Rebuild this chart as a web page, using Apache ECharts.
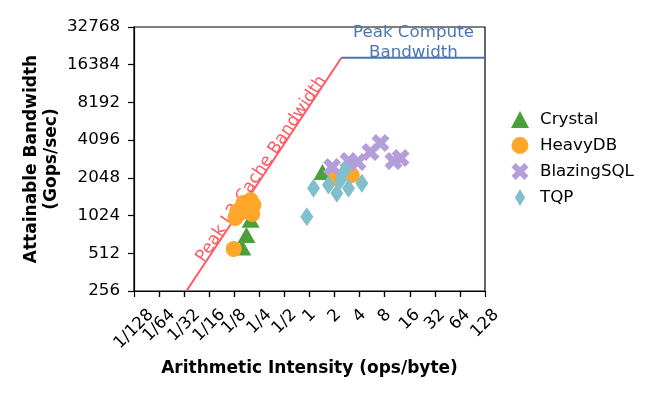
<!DOCTYPE html>
<html>
<head>
<meta charset="utf-8">
<script src="https://cdn.jsdelivr.net/npm/echarts@6/dist/echarts.min.js"></script>
<style>
html,body{margin:0;padding:0;background:#fff;}
#chart{width:665px;height:397px;}
</style>
</head>
<body>
<div id="chart"></div>
<script>
// ---- data ----
const xTickLabels = ['1/128','1/64','1/32','1/16','1/8','1/4','1/2','1','2','4','8','16','32','64','128'];
const yTickLabels = ['256','512','1024','2048','4096','8192','16384','32768'];

const seriesNames = ['Crystal', 'HeavyDB', 'BlazingSQL', 'TQP'];

const crystalX = [0.196, 0.175, 0.156, 1.43, 1.94];
const crystalY = [950, 716, 570, 2280, 2080];

const heavyX = [0.123, 0.129, 0.1355, 0.161, 0.196, 0.212, 0.205, 0.148, 2.04, 3.22];
const heavyY = [554, 979, 1113, 1290, 1362, 1243, 1054, 1073, 2031, 2157];

const blazingX = [1.87, 2.94, 3.77, 5.40, 7.12, 10.2, 12.4];
const blazingY = [2499, 2792, 2740, 3293, 3886, 2792, 2949];

const tqpX = [0.928, 1.117, 1.69, 2.13, 2.68, 2.94, 4.25, 2.36];
const tqpY = [1003, 1690, 1795, 1541, 2365, 1690, 1852, 1969];

const cacheBandwidth = 7700;   // Gops/sec per ops/byte (slope of roof)
const peakCompute = 18600;     // Gops/sec
const roofLabels = ['Peak L2 Cache Bandwidth', 'Peak Compute\nBandwidth'];
const cacheLabelAtX = 0.336;
const computeLabelAtX = 17.7;

// ---- helpers ----
const pair = (xs, ys) => xs.map((x, i) => [x, ys[i]]);
const FONT = '"DejaVu Sans", sans-serif';
const TICK_FS = 16.7;

const cv = document.createElement('canvas').getContext('2d');
cv.font = TICK_FS + 'px DejaVu Sans';
const widths = xTickLabels.map(t => cv.measureText(t).width);
const w0 = Math.min(...widths);
const rich = {};
xTickLabels.forEach((t, i) => {
  const p = (widths[i] - w0) / 2;
  rich['p' + i] = { padding: [p, p, 0, 0], fontSize: TICK_FS, fontFamily: FONT, color: '#000' };
});
const tickIndex = v => Math.round(Math.log2(v)) + 7;

const xPath = 'path://M0,3 L3,0 L6,3 L9,0 L12,3 L9,6 L12,9 L9,12 L6,9 L3,12 L0,9 L3,6 Z';
const dPath = 'path://M6,0 L12,10 L6,20 L0,10 Z';

const colors = { red: '#ff5a62', blue: '#4a76b5', green: '#4ca03c', orange: '#ffa62b', purple: '#b39ddb', teal: '#80bfcb' };

const chart = echarts.init(document.getElementById('chart'), null, { renderer: 'canvas' });

const plainLabel = { textBorderWidth: 0, textShadowBlur: 0, opacity: 1 };

const xBase = {
  type: 'log', logBase: 2, min: 1 / 128, max: 128, interval: 1, splitNumber: 14,
  position: 'bottom', gridIndex: 0,
  splitLine: { show: false },
  minorTick: { show: false }
};
const xLabelBase = {
  rotate: 45, align: 'center', verticalAlign: 'middle', margin: 25,
  hideOverlap: false, fontFamily: FONT, fontSize: TICK_FS, color: '#000', rich: rich
};

const option = {
  animation: false,
  backgroundColor: '#fff',
  grid: { left: 134, right: 180, top: 27, bottom: 106, show: true, borderColor: '#000', borderWidth: 1.2,
          backgroundColor: 'transparent', outerBoundsMode: 'none', containLabel: false },
  legend: {
    orient: 'vertical', left: 506, top: 106,
    itemWidth: 18, itemHeight: 17, itemGap: 9,
    data: seriesNames,
    textStyle: { fontFamily: FONT, fontSize: TICK_FS, color: '#000', padding: [0, 0, 0, 6] }
  },
  xAxis: [
    Object.assign({}, xBase, {
      name: 'Arithmetic Intensity (ops/byte)', nameLocation: 'middle', nameGap: 69, nameMoveOverlap: false,
      nameTextStyle: { fontFamily: FONT, fontSize: 17, fontWeight: 'bold', color: '#000' },
      axisLine: { show: true, lineStyle: { color: '#000', width: 1.2 } },
      axisTick: { show: true, length: 6, lineStyle: { color: '#000', width: 1.2 } },
      axisLabel: Object.assign({}, xLabelBase, {
        showMinLabel: false, showMaxLabel: true,
        formatter: function (v) {
          const i = tickIndex(v);
          return i === 0 ? '' : '{p' + i + '|' + xTickLabels[i] + '}';
        }
      })
    }),
    Object.assign({}, xBase, {
      axisLine: { show: false },
      axisTick: { show: true, length: 6, lineStyle: { color: '#000', width: 1.2 } },
      axisLabel: Object.assign({}, xLabelBase, {
        showMinLabel: true, showMaxLabel: false,
        formatter: function (v) {
          const i = tickIndex(v);
          return i === 0 ? '{p0|' + xTickLabels[0] + '}' : '';
        }
      })
    })
  ],
  yAxis: {
    type: 'log', logBase: 2, min: 256, max: 32768, interval: 1, splitNumber: 7,
    name: 'Attainable Bandwidth\n(Gops/sec)', nameLocation: 'middle', nameGap: 72, nameMoveOverlap: false,
    nameTextStyle: { fontFamily: FONT, fontSize: 17, fontWeight: 'bold', color: '#000', lineHeight: 20 },
    axisLine: { show: true, lineStyle: { color: '#000', width: 1.2 } },
    axisTick: { show: true, length: 6, lineStyle: { color: '#000', width: 1.2 } },
    splitLine: { show: false },
    axisLabel: {
      margin: 14, fontFamily: FONT, fontSize: TICK_FS, color: '#000',
      showMinLabel: true, showMaxLabel: true,
      formatter: function (v) {
        const i = Math.round(Math.log2(v)) - 8;
        return yTickLabels[i];
      }
    }
  },
  series: [
    {
      name: 'roofBW', type: 'line', z: 1, symbol: 'none', silent: true,
      data: [[256 / cacheBandwidth, 256], [peakCompute / cacheBandwidth, peakCompute]],
      lineStyle: { color: colors.red, width: 2 }
    },
    {
      name: 'roofPeak', type: 'line', z: 1, symbol: 'none', silent: true,
      data: [[peakCompute / cacheBandwidth, peakCompute], [128, peakCompute]],
      lineStyle: { color: colors.blue, width: 2 }
    },
    {
      name: 'labels', type: 'scatter', z: 1, symbolSize: 0, silent: true,
      data: [
        { value: [cacheLabelAtX, cacheBandwidth * cacheLabelAtX],
          label: Object.assign({ show: true, formatter: roofLabels[0], position: 'inside', rotate: 56.2, offset: [-8, -5],
                   align: 'center', verticalAlign: 'middle', fontFamily: FONT, fontSize: 17, color: colors.red }, plainLabel) },
        { value: [computeLabelAtX, peakCompute],
          label: Object.assign({ show: true, formatter: roofLabels[1], position: 'top', distance: -5,
                   align: 'center', fontFamily: FONT, fontSize: 16.7, lineHeight: 20, color: colors.blue }, plainLabel) }
      ]
    },
    {
      name: 'Crystal', type: 'scatter', z: 3, symbol: 'triangle', symbolSize: [18, 16],
      itemStyle: { color: colors.green, opacity: 1 }, data: pair(crystalX, crystalY)
    },
    {
      name: 'HeavyDB', type: 'scatter', z: 3, symbol: 'circle', symbolSize: 16,
      itemStyle: { color: colors.orange, opacity: 1 }, data: pair(heavyX, heavyY)
    },
    {
      name: 'BlazingSQL', type: 'scatter', z: 3, symbol: xPath, symbolSize: 18,
      itemStyle: { color: colors.purple, opacity: 1 }, data: pair(blazingX, blazingY)
    },
    {
      name: 'TQP', type: 'scatter', z: 3, symbol: dPath, symbolSize: [13, 19],
      itemStyle: { color: colors.teal, opacity: 1 }, data: pair(tqpX, tqpY)
    }
  ]
};
chart.setOption(option);
</script>
</body>
</html>
